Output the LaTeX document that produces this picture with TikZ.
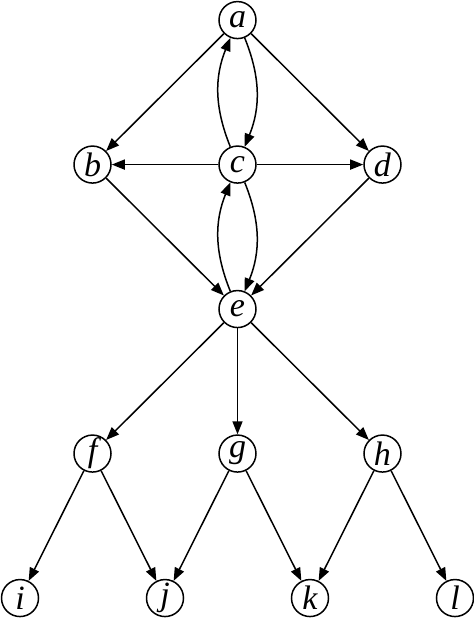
\documentclass[tikz,border=0pt]{standalone}
\usepackage{fontspec}
\setmainfont{Liberation Serif}
\usetikzlibrary{arrows.meta}
\begin{document}
\begin{tikzpicture}[x=36.25pt,y=72.25pt,
  vertex/.style={draw,circle,line width=0.75pt,inner sep=0pt,minimum size=18.5pt,
    font=\fontsize{17}{17}\selectfont\itshape},
  edge/.style={line width=0.75pt,-{Triangle[length=6.5pt,width=5pt]}}]
  \useasboundingbox (-0.276,-0.138) rectangle (6.262,4.139);

  % vertices
  \node[vertex] (a) at (3,4) {a};
  \node[vertex] (b) at (1,3) {b};
  \node[vertex] (c) at (3,3) {c};
  \node[vertex] (d) at (5,3) {d};
  \node[vertex] (e) at (3,2) {e};
  \node[vertex] (f) at (1,1) {f};
  \node[vertex] (g) at (3,1) {g};
  \node[vertex] (h) at (5,1) {h};
  \node[vertex] (i) at (0,0) {i};
  \node[vertex] (j) at (2,0) {j};
  \node[vertex] (k) at (4,0) {k};
  \node[vertex] (l) at (6,0) {l};

  % edges
  \draw[edge] (a) -- (b);
  \draw[edge] (a) -- (d);
  \draw[edge] (a) to[bend left=22] (c);
  \draw[edge] (c) to[bend left=22] (a);
  \draw[edge] (c) -- (b);
  \draw[edge] (c) -- (d);
  \draw[edge] (b) -- (e);
  \draw[edge] (d) -- (e);
  \draw[edge] (c) to[bend left=22] (e);
  \draw[edge] (e) to[bend left=22] (c);
  \foreach \s/\t in {e/f,e/g,e/h,f/i,f/j,g/j,g/k,h/k,h/l}
    \draw[edge] (\s) -- (\t);
\end{tikzpicture}
\end{document}
